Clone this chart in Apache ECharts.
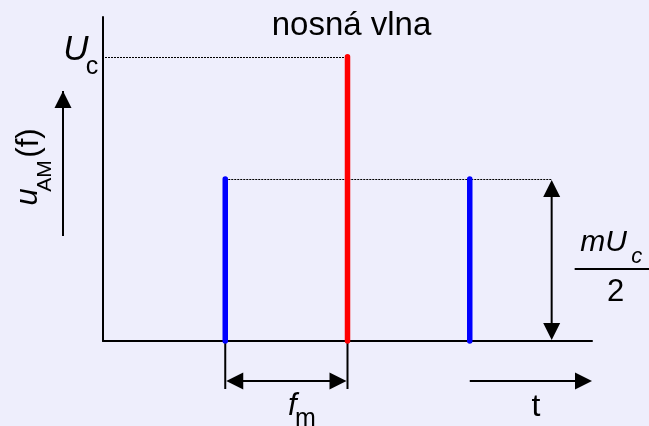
<!DOCTYPE html>
<html>
<head>
<meta charset="utf-8">
<script src="https://cdn.jsdelivr.net/npm/echarts@6/dist/echarts.min.js"></script>
<style>
  html, body { margin: 0; padding: 0; background: #eeeefc; }
  #chart { width: 649px; height: 426px; }
</style>
</head>
<body>
<div id="chart"></div>
<script>
// spectrum of an AM signal: fc - fm, fc, fc + fm
var freqs = [1, 2, 3];
var amps = [0.57, 1, 0.57];
var kinds = [0, 1, 0];            // 0 = side band, 1 = carrier
var carrierTitle = 'nosná vlna';

(function () {
  var el = document.getElementById('chart');
  var chart = echarts.init(el, null, { renderer: 'canvas' });
  var ink = '#000';
  var ff = '"Liberation Sans", Arial, sans-serif';

  var spectrum = freqs.map(function (f, i) { return [f, amps[i], kinds[i]]; });

  function arrowHead(tipX, tipY, dx, dy) {
    var len = 17, half = 8.5;
    var bx = tipX - dx * len, by = tipY - dy * len;
    return {
      type: 'polygon',
      shape: { points: [[tipX, tipY], [bx - dy * half, by + dx * half], [bx + dy * half, by - dx * half]] },
      style: { fill: ink }
    };
  }
  function seg(x1, y1, x2, y2, w, dash) {
    return {
      type: 'line',
      shape: { x1: x1, y1: y1, x2: x2, y2: y2 },
      style: { stroke: ink, lineWidth: w, lineDash: dash || null }
    };
  }
  function txt(x, y, s, font, rot) {
    return {
      type: 'text', x: x, y: y, rotation: rot || 0,
      style: { text: s, font: font, fill: ink, align: 'center', verticalAlign: 'middle' }
    };
  }

  function renderLine(params, api) {
    var base = api.coord([api.value(0), 0]);
    var top = api.coord([api.value(0), api.value(1)]);
    return {
      type: 'line',
      shape: { x1: base[0], y1: base[1], x2: top[0], y2: top[1] },
      style: { stroke: api.value(2) === 1 ? '#ff0000' : '#0000ff', lineWidth: 5.5, lineCap: 'round' }
    };
  }

  function renderNotes(params, api) {
    var o = api.coord([0, 0]);
    var side = api.coord([freqs[0], amps[0]]);
    var car = api.coord([freqs[1], amps[1]]);
    var s1 = api.coord([freqs[0], 0]);
    var cx = api.coord([freqs[1], 0]);
    var dimX = api.coord([freqs[2] + 0.67, 0])[0];
    var below = o[1] + 40;
    var tStart = api.coord([freqs[2], 0])[0];
    var tEnd = api.coord([freqs[2] + 1, 0])[0];
    var carY = Math.round(car[1]) + 0.5;
    var sideY = Math.round(side[1]) + 0.5;
    var els = [];

    // level guides
    els.push(seg(o[0] + 2, carY, car[0], carY, 1, [2, 1]));
    els.push(seg(side[0], sideY, dimX, sideY, 1, [2, 1]));

    // mUc/2 dimension
    els.push(seg(dimX, side[1] + 4, dimX, o[1] - 4, 2));
    els.push(arrowHead(dimX, side[1] + 1, 0, -1));
    els.push(arrowHead(dimX, o[1] - 1, 0, 1));
    els.push(seg(dimX + 23, side[1] + 90, dimX + 100, side[1] + 90, 2));
    els.push(txt(dimX + 52, side[1] + 64, 'mU', 'italic 30px ' + ff));
    els.push(txt(dimX + 85, side[1] + 78, 'c', 'italic 22px ' + ff));
    els.push(txt(dimX + 64, side[1] + 113, '2', '31px ' + ff));

    // fm dimension
    els.push(seg(s1[0], o[1], s1[0], o[1] + 48, 2));
    els.push(seg(cx[0], o[1], cx[0], o[1] + 48, 2));
    els.push(seg(s1[0] + 4, below, cx[0] - 4, below, 2));
    els.push(arrowHead(s1[0] + 1, below, -1, 0));
    els.push(arrowHead(cx[0] - 1, below, 1, 0));
    els.push(txt((s1[0] + cx[0]) / 2 + 6, o[1] + 65, 'f', 'italic 31px ' + ff));
    els.push(txt((s1[0] + cx[0]) / 2 + 19, o[1] + 78, 'm', '25px ' + ff));

    // time arrow
    els.push(seg(tStart, below, tEnd - 4, below, 2));
    els.push(arrowHead(tEnd, below, 1, 0));
    els.push(txt((tStart + tEnd) / 2 + 5, o[1] + 66, 't', '32px ' + ff));

    // y label and arrow
    var ax = o[0] - 40;
    els.push(seg(ax, o[1] - 105, ax, o[1] - 250, 2));
    els.push(arrowHead(ax, o[1] - 250, 0, -1));
    els.push(txt(o[0] - 75, o[1] - 144, 'u', 'italic 31px ' + ff, Math.PI / 2));
    els.push(txt(o[0] - 58, o[1] - 165, 'AM', '21px ' + ff, Math.PI / 2));
    els.push(txt(o[0] - 74, o[1] - 198, '(f)', '31px ' + ff, Math.PI / 2));

    // Uc label and title
    els.push(txt(o[0] - 27, car[1] - 7, 'U', 'italic 35px ' + ff));
    els.push(txt(o[0] - 11, car[1] + 10, 'c', '25px ' + ff));
    els.push(txt(car[0] + 4, car[1] - 31, carrierTitle, '33px ' + ff));

    return { type: 'group', children: els };
  }

  chart.setOption({
    animation: false,
    backgroundColor: '#eeeefc',
    grid: { left: 103, right: 57, top: 17, bottom: 85 },
    xAxis: {
      type: 'value', min: 0, max: 4,
      axisLine: { show: true, lineStyle: { color: ink, width: 2 } },
      axisTick: { show: false }, axisLabel: { show: false }, splitLine: { show: false }
    },
    yAxis: {
      type: 'value', min: 0, max: 1.14,
      axisLine: { show: true, lineStyle: { color: ink, width: 2 } },
      axisTick: { show: false }, axisLabel: { show: false }, splitLine: { show: false }
    },
    series: [
      { type: 'custom', renderItem: renderLine, data: spectrum, encode: { x: 0, y: 1 }, z: 3 },
      { type: 'custom', renderItem: renderNotes, data: [[0, 0]], encode: { x: 0, y: 1 }, z: 2, silent: true }
    ]
  });
})();
</script>
</body>
</html>
